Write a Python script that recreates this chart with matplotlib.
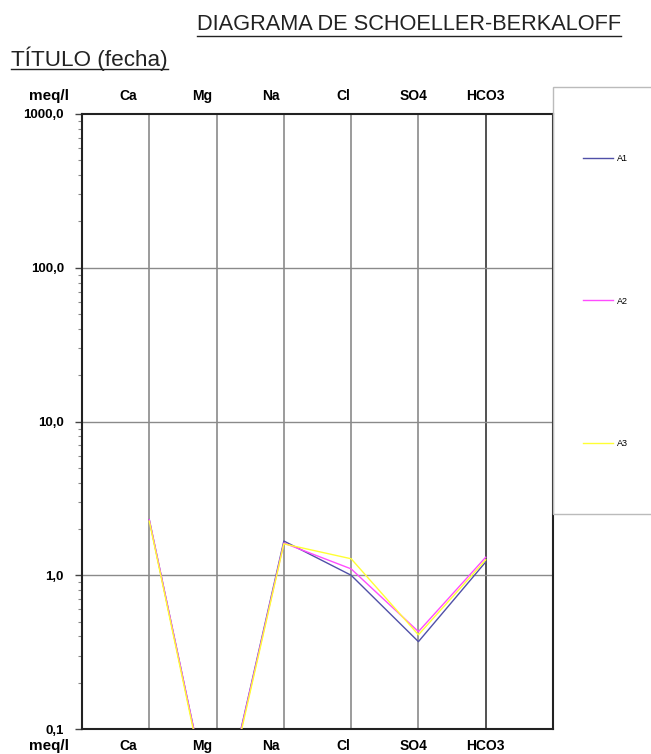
import numpy as np
import matplotlib
matplotlib.use('Agg')
import matplotlib.pyplot as plt
from matplotlib.patches import Rectangle
from matplotlib.lines import Line2D
from matplotlib.ticker import FixedLocator, FixedFormatter, NullFormatter

plt.rcParams['font.family'] = ['Liberation Sans', 'DejaVu Sans']

# datos (meq/l)
cats = ['Ca', 'Mg', 'Na', 'Cl', 'SO4', 'HCO3']
a1 = [2.30, 0.020, 1.67, 1.00, 0.37, 1.22]
a2 = [2.30, 0.020, 1.62, 1.10, 0.43, 1.31]
a3 = [2.25, 0.019, 1.60, 1.28, 0.41, 1.26]
series = ['A1', 'A2', 'A3']
colors = ['#5050a8', '#ff4cff', '#ffff33']
yticks = [0.1, 1, 10, 100, 1000]
ylabels = ['0,1', '1,0', '10,0', '100,0', '1000,0']
# posiciones de las etiquetas de categoria (desplazadas como en el original)
label_x = [0.68, 1.78, 2.80, 3.89, 4.92, 5.99]

W, H = 651, 754
fig = plt.figure(figsize=(W / 100, H / 100), dpi=100)
ax = fig.add_axes([82 / W, 1 - 729 / H, 471 / W, 615 / H])

x = np.arange(1, len(cats) + 1)
for vals, name, c in zip([a1, a2, a3], series, colors):
    ax.plot(x, vals, '-', color=c, lw=1.0, label=name, zorder=3)

ax.set_yscale('log')
ax.set_ylim(0.1, 1000)
ax.set_xlim(0, 7)

# lineas verticales por ion
for i in x:
    ax.axvline(i, color='#333333' if i == 6 else '#8a8a8a', lw=1.2, zorder=1)
for v in [1, 10, 100]:
    ax.axhline(v, color='#8a8a8a', lw=1.0, zorder=1)

ax.yaxis.set_major_locator(FixedLocator(yticks))
ax.yaxis.set_major_formatter(FixedFormatter(ylabels))
ax.yaxis.set_minor_formatter(NullFormatter())
ax.tick_params(axis='y', which='major', length=5, width=1, pad=8,
               labelsize=9.5, color='#444444')
ax.tick_params(axis='y', which='minor', length=3, width=0.8, color='#888888')
for t in ax.get_yticklabels():
    t.set_fontweight('bold')
ax.set_xticks([])
for s in ax.spines.values():
    s.set_linewidth(1.5)
    s.set_color('#222222')

# etiquetas arriba y abajo
trans = ax.get_xaxis_transform()
for lx, c in zip(label_x, cats):
    ax.text(lx, 1.03, c, transform=trans, ha='center', va='center',
            fontsize=10, fontweight='bold')
    ax.text(lx, -0.027, c, transform=trans, ha='center', va='center',
            fontsize=10, fontweight='bold')
ax.text(-0.49, 1.03, 'meq/l', transform=trans, ha='center', va='center',
        fontsize=11, fontweight='bold')
ax.text(-0.49, -0.027, 'meq/l', transform=trans, ha='center', va='center',
        fontsize=11, fontweight='bold')

# titulos subrayados
def underlined(xpx, ypx, s, size, gap):
    t = fig.text(xpx / W, 1 - ypx / H, s, ha='left', va='baseline',
                 fontsize=size, color='#222222')
    r = fig.canvas.get_renderer()
    bb = t.get_window_extent(renderer=r)
    yl = (H - ypx - gap) / H
    fig.add_artist(Line2D([bb.x0 / W, bb.x1 / W], [yl, yl],
                          color='#222222', lw=1.0))

underlined(197, 30, 'DIAGRAMA DE SCHOELLER-BERKALOFF', 15.7, 6)
underlined(11, 66, 'TÍTULO (fecha)', 16.2, 3)

# leyenda
fig.add_artist(Rectangle((553 / W, 1 - 514 / H), 120 / W, (514 - 87) / H,
                         transform=fig.transFigure, fill=False,
                         edgecolor='#bbbbbb', lw=1.0, clip_on=False))
fig.legend(loc='upper left', bbox_to_anchor=(583 / W, 1 - 154 / H),
           frameon=False, fontsize=6.5, handlelength=3.3,
           handletextpad=0.45, labelspacing=14.8, borderpad=0,
           borderaxespad=0)

fig.savefig('out.png', dpi=100)
